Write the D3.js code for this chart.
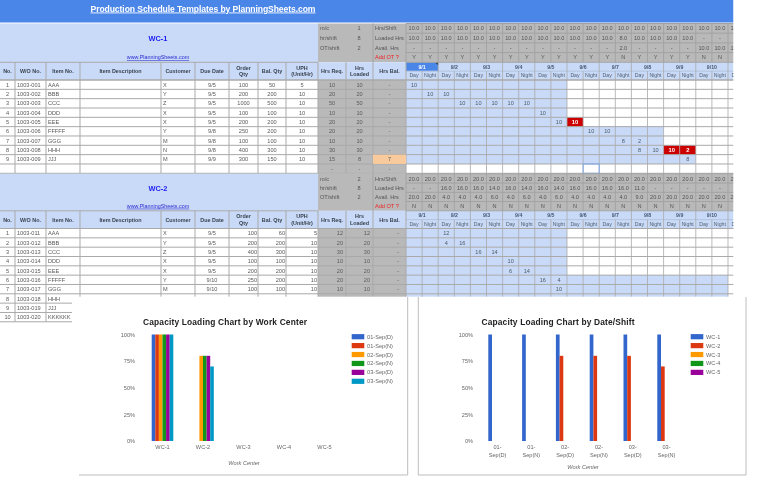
<!DOCTYPE html>
<html>
<head>
<meta charset="utf-8">
<script src="https://cdn.jsdelivr.net/npm/d3@7"></script>
<style>
  html, body { margin: 0; padding: 0; background: #fff; }
  svg { display: block; filter: blur(0.35px); font-family: "Liberation Sans", Arial, sans-serif; }
</style>
</head>
<body>
<svg id="chart" width="768" height="495"></svg>
<script>
const pageTitle = "Production Schedule Templates by PlanningSheets.com";
const siteLink = "www.PlanningSheets.com";
const headers = ["No.", "W/O No.", "Item No.", "Item Description", "Customer", "Due Date", "Order|Qty", "Bal. Qty", "UPH|(Unit/Hr)", "Hrs Req.", "Hrs|Loaded", "Hrs Bal."];
const dates = ["9/1", "9/2", "9/3", "9/4", "9/5", "9/6", "9/7", "9/8", "9/9", "9/10", "D"];
const capacityLabels = ["Hrs/Shift", "Loaded Hrs", "Avail. Hrs", "Add OT ?"];

// WC-1 table
const wc1Wo = ["1003-001", "1003-002", "1003-003", "1003-004", "1003-005", "1003-006", "1003-007", "1003-008", "1003-009"];
const wc1Items = ["AAA", "BBB", "CCC", "DDD", "EEE", "FFFFF", "GGG", "HHH", "JJJ"];
const wc1Cust = ["X", "Y", "Z", "X", "X", "Y", "M", "N", "M"];
const wc1Due = ["9/5", "9/5", "9/5", "9/5", "9/5", "9/8", "9/8", "9/8", "9/9"];
const wc1Order = [100, 200, 1000, 100, 200, 250, 100, 400, 300];
const wc1Bal = [50, 200, 500, 100, 200, 200, 100, 300, 150];
const wc1Uph = [5, 10, 10, 10, 10, 10, 10, 10, 10];
const wc1Req = [10, 20, 50, 10, 20, 20, 10, 30, 15, "-"];
const wc1Loaded = [10, 20, 50, 10, 20, 20, 10, 30, 8, "-"];
const wc1HrsBal = ["-", "-", "-", "-", "-", "-", "-", "-", 7, "-"];
const wc1Params = [["m/c", 1], ["hr/shift", 8], ["OT/shift", 2]];
const wc1HrsShift = ["10.0", "10.0", "10.0", "10.0", "10.0", "10.0", "10.0", "10.0", "10.0", "10.0", "10.0", "10.0", "10.0", "10.0", "10.0", "10.0", "10.0", "10.0", "10.0", "10.0", "10.0"];
const wc1LoadedHrs = ["10.0", "10.0", "10.0", "10.0", "10.0", "10.0", "10.0", "10.0", "10.0", "10.0", "10.0", "10.0", "10.0", "8.0", "10.0", "10.0", "10.0", "10.0", "-", "-", "-"];
const wc1Avail = ["-", "-", "-", "-", "-", "-", "-", "-", "-", "-", "-", "-", "-", "2.0", "-", "-", "-", "-", "10.0", "10.0", "10.0"];
const wc1Ot = ["Y", "Y", "Y", "Y", "Y", "Y", "Y", "Y", "Y", "Y", "Y", "Y", "Y", "N", "Y", "Y", "Y", "Y", "N", "N", "N"];
// [row, shift, hours, late]
const wc1Load = [[0, 0, 10], [1, 1, 10], [1, 2, 10], [2, 3, 10], [2, 4, 10], [2, 5, 10], [2, 6, 10], [2, 7, 10], [3, 8, 10], [4, 9, 10], [4, 10, 10, 1], [5, 11, 10], [5, 12, 10], [6, 13, 8], [6, 14, 2], [7, 14, 8], [7, 15, 10], [7, 16, 10, 1], [7, 17, 2, 1], [8, 17, 8]];
const wc1Window = [10, 10, 10, 10, 10, 16, 16, 16, 18, 0];

// WC-2 table
const wc2Wo = ["1003-011", "1003-012", "1003-013", "1003-014", "1003-015", "1003-016", "1003-017", "1003-018", "1003-019", "1003-020"];
const wc2Items = ["AAA", "BBB", "CCC", "DDD", "EEE", "FFFFF", "GGG", "HHH", "JJJ", "KKKKKK"];
const wc2Cust = ["X", "Y", "Z", "X", "X", "Y", "M", "N", "", ""];
const wc2Due = ["9/5", "9/5", "9/5", "9/5", "9/5", "9/10", "9/10", "9/15", "", ""];
const wc2Order = [100, 200, 400, 100, 200, 250, 100, 400, "", ""];
const wc2Bal = [60, 200, 300, 100, 200, 200, 100, 400, "", ""];
const wc2Uph = [5, 10, 10, 10, 10, 10, 10, 10, "", ""];
const wc2Req = [12, 20, 30, 10, 20, 20, 10, 40, "", ""];
const wc2Loaded = [12, 20, 30, 10, 20, 20, 10, 40, "", ""];
const wc2HrsBal = ["-", "-", "-", "-", "-", "-", "-", "-", "", ""];
const wc2Params = [["m/c", 2], ["hr/shift", 8], ["OT/shift", 2]];
const wc2HrsShift = ["20.0", "20.0", "20.0", "20.0", "20.0", "20.0", "20.0", "20.0", "20.0", "20.0", "20.0", "20.0", "20.0", "20.0", "20.0", "20.0", "20.0", "20.0", "20.0", "20.0", "20.0"];
const wc2LoadedHrs = ["-", "-", "16.0", "16.0", "16.0", "14.0", "16.0", "14.0", "16.0", "14.0", "16.0", "16.0", "16.0", "16.0", "11.0", "-", "-", "-", "-", "-", "-"];
const wc2Avail = ["20.0", "20.0", "4.0", "4.0", "4.0", "6.0", "4.0", "6.0", "4.0", "6.0", "4.0", "4.0", "4.0", "4.0", "9.0", "20.0", "20.0", "20.0", "20.0", "20.0", "20.0"];
const wc2Ot = ["N", "N", "N", "N", "N", "N", "N", "N", "N", "N", "N", "N", "N", "N", "N", "N", "N", "N", "N", "N", "N"];
const wc2Load = [[0, 2, 12], [1, 2, 4], [1, 3, 16], [2, 4, 16], [2, 5, 14], [3, 6, 10], [4, 6, 6], [4, 7, 14], [5, 8, 16], [5, 9, 4], [6, 9, 10], [7, 10, 16], [7, 11, 16], [7, 12, 8]];
const wc2Window = [10, 10, 10, 10, 10, 20, 20, 20, 20, 20];

// charts
const workCenters = ["WC-1", "WC-2", "WC-3", "WC-4", "WC-5"];
const shiftNames = ["01-Sep(D)", "01-Sep(N)", "02-Sep(D)", "02-Sep(N)", "03-Sep(D)", "03-Sep(N)"];
const wc1Capacity = [1, 1, 1, 1, 1, 1];
const wc2Capacity = [0, 0, 0.8, 0.8, 0.8, 0.7];
const chartColors = ["#3366cc", "#dc3912", "#ff9900", "#109618", "#990099", "#0099c6"];

const headerBlue = "#4a86e8", lightBlue = "#c9daf8", grey = "#b9b9b9", line = "#a9a9a9";
const textColor = "#5a5a5a", headColor = "#39424e";

const svg = d3.select("#chart");
svg.append("defs").append("clipPath").attr("id", "sheetClip")
    .append("rect").attr("width", 733.5).attr("height", 495);
svg.append("rect").attr("width", 768).attr("height", 495).attr("fill", "#fff");

const sheet = svg.append("g").attr("clip-path", "url(#sheetClip)");

// column edges of the sheet
const colEdges = [0, 15, 46, 80, 161, 195, 229, 258, 286, 318, 346, 373, 406];
const colX = d3.scaleOrdinal().domain(d3.range(colEdges.length)).range(colEdges);
const colMid = i => (colX(i) + colX(i + 1)) / 2;
const shiftX = d3.scaleBand().domain(d3.range(21)).range([406, 406 + 16.1 * 21]);
const dateX = d3.scaleBand().domain(d3.range(11)).range([406, 406 + 32.2 * 11]);

sheet.append("rect").attr("width", 733.5).attr("height", 22.5).attr("fill", headerBlue);
sheet.append("text").attr("x", 203).attr("y", 11.5)
    .attr("text-anchor", "middle").attr("font-size", 8.6).attr("font-weight", "bold")
    .attr("fill", "#fff").attr("text-decoration", "underline").attr("textLength", 225)
    .text(pageTitle);

function put(g, x, y, str, opts) {
    opts = opts || {};
    return g.append("text").attr("x", x).attr("y", y).attr("dy", "0.35em")
        .attr("text-anchor", opts.anchor || "start")
        .attr("font-size", opts.size || 5.6)
        .attr("font-weight", opts.bold ? "bold" : null)
        .attr("fill", opts.fill || textColor)
        .text(str);
}

function drawBlock(b) {
    const g = sheet.append("g");
    const rowY = d3.scaleLinear().domain([0, 10]).range([b.dataTop, b.dataTop + 93.3]);
    const capY = d3.scaleLinear().domain([0, 4]).range([b.top, b.headTop]);
    const n = 10, dataBottom = rowY(b.visibleRows);

    // fills
    g.append("rect").attr("x", 0).attr("y", b.top).attr("width", colX(9)).attr("height", b.headTop - b.top).attr("fill", lightBlue);
    g.append("rect").attr("x", colX(9)).attr("y", b.top).attr("width", 733.5 - colX(9)).attr("height", b.headTop - b.top).attr("fill", grey);
    g.append("rect").attr("x", 0).attr("y", b.headTop).attr("width", 733.5).attr("height", b.dataTop - b.headTop).attr("fill", lightBlue);
    g.append("rect").attr("x", colX(9)).attr("y", b.dataTop).attr("width", colX(12) - colX(9)).attr("height", dataBottom - b.dataTop).attr("fill", grey);

    // scheduled window per order
    g.selectAll(".window").data(b.window.slice(0, b.visibleRows)).enter().append("rect")
        .attr("x", shiftX(0))
        .attr("y", (d, i) => rowY(i))
        .attr("width", d => d * shiftX.bandwidth())
        .attr("height", rowY(1) - rowY(0))
        .attr("fill", lightBlue);

    g.selectAll(".late").data(b.load.filter(d => d[3])).enter().append("rect")
        .attr("x", d => shiftX(d[1]))
        .attr("y", d => rowY(d[0]))
        .attr("width", shiftX.bandwidth())
        .attr("height", rowY(1) - rowY(0))
        .attr("fill", "#cc0000");

    if (b.active) {
        g.append("rect").attr("x", dateX(0)).attr("y", b.headTop).attr("width", dateX.bandwidth()).attr("height", (b.dataTop - b.headTop) / 2).attr("fill", headerBlue);
        g.append("path").attr("d", `M${dateX(1) - 3},${b.headTop}h3v3z`).attr("fill", "#222");
    }

    // grid lines
    const hLines = d3.range(0, b.visibleRows + 1).map(rowY);
    g.selectAll(".h").data(hLines).enter().append("line")
        .attr("x1", 0).attr("x2", 733.5).attr("y1", d => d).attr("y2", d => d)
        .attr("stroke", line).attr("stroke-width", 1);
    g.selectAll(".cap").data(d3.range(0, 5)).enter().append("line")
        .attr("x1", colX(12)).attr("x2", 733.5).attr("y1", d => capY(d)).attr("y2", d => capY(d))
        .attr("stroke", "#a3a3a3");
    g.append("line").attr("x1", 0).attr("x2", colX(9)).attr("y1", b.headTop).attr("y2", b.headTop).attr("stroke", line);
    g.append("line").attr("x1", 0).attr("x2", 733.5).attr("y1", b.dataTop).attr("y2", b.dataTop).attr("stroke", line);
    g.append("line").attr("x1", shiftX(0)).attr("x2", 733.5).attr("y1", (b.headTop + b.dataTop) / 2).attr("y2", (b.headTop + b.dataTop) / 2).attr("stroke", "#b4c4dc");
    g.selectAll(".v").data(colEdges.slice(1)).enter().append("line")
        .attr("x1", d => d).attr("x2", d => d).attr("y1", b.headTop).attr("y2", dataBottom)
        .attr("stroke", line);
    g.selectAll(".s").data(d3.range(1, 21)).enter().append("line")
        .attr("x1", d => shiftX(d)).attr("x2", d => shiftX(d))
        .attr("y1", d => d % 2 ? (b.headTop + b.dataTop) / 2 : b.headTop)
        .attr("y2", dataBottom)
        .attr("stroke", line).attr("stroke-opacity", 0.8);
    g.selectAll(".cv").data(d3.range(0, 21)).enter().append("line")
        .attr("x1", d => shiftX(d)).attr("x2", d => shiftX(d))
        .attr("y1", b.top).attr("y2", b.headTop)
        .attr("stroke", "#a3a3a3");
    g.append("line").attr("x1", colX(11)).attr("x2", colX(11)).attr("y1", b.top).attr("y2", b.headTop).attr("stroke", "#a3a3a3");

    // block heading
    put(g, 158, b.top + 15, b.name, { anchor: "middle", size: 7.4, bold: true, fill: "#1c1cf0" });
    put(g, 158, b.headTop - 5, siteLink, { anchor: "middle", size: 5.4, fill: "#2a2ad0" }).attr("text-decoration", "underline");

    b.params.forEach((p, i) => {
        put(g, colX(9) + 2, capY(i) + 5, p[0], { fill: "#555" });
        put(g, 359, capY(i) + 5, p[1], { anchor: "middle", fill: "#555" });
    });
    capacityLabels.forEach((c, i) => {
        put(g, colX(11) + 2, capY(i) + 4.8, c, { fill: i === 3 ? "#ee2222" : "#555" });
    });
    [b.hrsShift, b.loadedHrs, b.avail, b.ot].forEach((arr, r) => {
        g.selectAll(null).data(arr).enter().append("text")
            .attr("x", (d, i) => shiftX(i) + shiftX.bandwidth() / 2)
            .attr("y", capY(r) + 4.8).attr("dy", "0.35em")
            .attr("text-anchor", "middle").attr("font-size", 5.6).attr("fill", "#555")
            .text(d => d);
    });

    // headers
    headers.forEach((h, i) => {
        const parts = h.split("|");
        const cy = (b.headTop + b.dataTop) / 2;
        parts.forEach((t, k) => {
            put(g, colMid(i), cy + (k - (parts.length - 1) / 2) * 6.4, t, { anchor: "middle", bold: true, size: 5.4, fill: headColor });
        });
    });
    dates.forEach((d, i) => {
        if (i === 10) return;
        put(g, dateX(i) + dateX.bandwidth() / 2, b.headTop + 4.4, d, { anchor: "middle", bold: true, size: 5.2, fill: b.active && i === 0 ? "#fff" : "#46586f" });
    });
    d3.range(21).forEach(i => {
        put(g, shiftX(i) + 8, (b.headTop + b.dataTop) / 2 + 4.4, i % 2 ? "Night" : "Day", { anchor: "middle", size: 5.2, fill: "#506070" });
    });

    // rows
    const rowText = (arr, x, anchor) => {
        g.selectAll(null).data(arr).enter().append("text")
            .attr("x", x).attr("y", (d, i) => rowY(i) + 4.8).attr("dy", "0.35em")
            .attr("text-anchor", anchor).attr("font-size", 5.6)
            .attr("fill", textColor)
            .text(d => d);
    };
    rowText(d3.range(1, b.wo.length + 1), colMid(0), "middle");
    rowText(b.wo, colX(1) + 2, "start");
    rowText(b.items, colX(2) + 2, "start");
    rowText(b.cust, colX(4) + 2, "start");
    rowText(b.due, colMid(5), "middle");
    if (b.rightAlign) {
        rowText(b.order, colX(7) - 1, "end");
        rowText(b.bal, colX(8) - 1, "end");
        rowText(b.uph, colX(9) - 1, "end");
        rowText(b.req, colX(10) - 3, "end");
        rowText(b.loaded, colX(11) - 3, "end");
        rowText(b.hrsBal, colX(12) - 7, "end");
    } else {
        rowText(b.order, colMid(6), "middle");
        rowText(b.bal, colMid(7), "middle");
        rowText(b.uph, colMid(8), "middle");
        rowText(b.req, colMid(9), "middle");
        rowText(b.loaded, colMid(10), "middle");
        rowText(b.hrsBal, colMid(11), "middle");
    }

    g.selectAll(".load").data(b.load).enter().append("text")
        .attr("x", d => shiftX(d[1]) + shiftX.bandwidth() / 2)
        .attr("y", d => rowY(d[0]) + 4.8).attr("dy", "0.35em")
        .attr("text-anchor", "middle").attr("font-size", d => d[3] ? 5.8 : 5.6)
        .attr("font-weight", d => d[3] ? "bold" : null)
        .attr("fill", d => d[3] ? "#fff" : "#4e5a68")
        .text(d => d[2]);
    return { g, rowY };
}

const block1 = drawBlock({
    name: "WC-1", top: 23.5, headTop: 62.3, dataTop: 80, visibleRows: 10, active: true,
    params: wc1Params, hrsShift: wc1HrsShift, loadedHrs: wc1LoadedHrs, avail: wc1Avail, ot: wc1Ot,
    wo: wc1Wo, items: wc1Items, cust: wc1Cust, due: wc1Due, order: wc1Order, bal: wc1Bal, uph: wc1Uph,
    req: wc1Req, loaded: wc1Loaded, hrsBal: wc1HrsBal, load: wc1Load, window: wc1Window
});
// the short order is flagged, the cursor sits on an empty cell
block1.g.insert("rect", "text").attr("x", colX(11)).attr("y", block1.rowY(8)).attr("width", colX(12) - colX(11)).attr("height", 9.3).attr("fill", "#f9cb9c");
block1.g.append("rect").attr("x", shiftX(11)).attr("y", block1.rowY(9)).attr("width", shiftX.bandwidth()).attr("height", 9.3)
    .attr("fill", "none").attr("stroke", "#7ea6e8").attr("stroke-width", 1);

drawBlock({
    name: "WC-2", top: 173.8, headTop: 210.8, dataTop: 228.5, visibleRows: 10, rightAlign: true,
    params: wc2Params, hrsShift: wc2HrsShift, loadedHrs: wc2LoadedHrs, avail: wc2Avail, ot: wc2Ot,
    wo: wc2Wo, items: wc2Items, cust: wc2Cust, due: wc2Due, order: wc2Order, bal: wc2Bal, uph: wc2Uph,
    req: wc2Req, loaded: wc2Loaded, hrsBal: wc2HrsBal, load: wc2Load, window: wc2Window
});

// floating chart panels cover the lower part of the sheet
svg.append("rect").attr("x", 72).attr("y", 296.7).attr("width", 696).attr("height", 198.3).attr("fill", "#fff");
svg.append("path").attr("d", "M79,475H407.7V297").attr("fill", "none").attr("stroke", "#bdbdbd").attr("stroke-width", 1);
svg.append("path").attr("d", "M418.3,297V475H746V297").attr("fill", "none").attr("stroke", "#bdbdbd").attr("stroke-width", 1);

function drawChart(c) {
    const g = svg.append("g");
    const y = d3.scaleLinear().domain([0, 1]).range([441, 334.5]);
    const x = d3.scaleBand().domain(c.categories).range(c.xRange);
    const inner = d3.scaleBand().domain(c.series).range([0, c.groupWidth]);
    const pad = (x.bandwidth() - c.groupWidth) / 2;

    g.append("text").attr("x", c.titleX).attr("y", 324.5).attr("text-anchor", "middle")
        .attr("font-size", 8.4).attr("font-weight", "bold").attr("fill", "#222")
        .attr("textLength", c.titleLen).text(c.title);

    const yAxis = g.append("g").attr("transform", `translate(${c.yAxisX},0)`)
        .call(d3.axisLeft(y).tickValues([0, 0.25, 0.5, 0.75, 1]).tickFormat(d3.format(".0%")).tickSize(0).tickPadding(0));
    yAxis.select(".domain").remove();
    yAxis.selectAll("text").attr("font-size", 5.6).attr("font-family", null).attr("fill", "#666");

    const xAxis = g.append("g").attr("transform", "translate(0,441)")
        .call(d3.axisBottom(x).tickSize(0).tickPadding(4));
    xAxis.select(".domain").remove();
    xAxis.selectAll("text").attr("font-size", 5.6).attr("font-family", null).attr("fill", "#666")
        .each(function (d) {
            const m = d.match(/^(\d+-)(.*)$/);
            if (!c.wrapLabels || !m) return;
            const t = d3.select(this).text(null);
            t.append("tspan").attr("x", 0).text(m[1]);
            t.append("tspan").attr("x", 0).attr("dy", 7.7).text(m[2]);
        });

    c.categories.forEach((cat, ci) => {
        g.selectAll(null).data(c.values).enter().append("rect")
            .attr("x", (v, si) => x(cat) + pad + inner(c.series[si]))
            .attr("y", v => y(v[ci]))
            .attr("width", inner.bandwidth())
            .attr("height", v => y(0) - y(v[ci]))
            .attr("fill", (v, si) => chartColors[si]);
    });

    g.append("text").attr("x", c.axisTitleX).attr("y", c.axisTitleY).attr("dy", "0.35em").attr("text-anchor", "middle")
        .attr("font-size", 5.6).attr("font-style", "italic").attr("fill", "#666").text("Work Center");

    const legendY = d3.scaleLinear().domain([0, 5]).range([336.7, 381.3]);
    c.legend.forEach((name, i) => {
        g.append("rect").attr("x", c.legendX).attr("y", legendY(i) - 2.6).attr("width", 12.6).attr("height", 5.2).attr("fill", chartColors[i]);
        g.append("text").attr("x", c.legendX + 15.4).attr("y", legendY(i)).attr("dy", "0.35em")
            .attr("font-size", 5.6).attr("fill", "#666").text(name);
    });
}

drawChart({
    title: "Capacity Loading Chart by Work Center", titleX: 225, titleLen: 164,
    categories: workCenters, series: shiftNames, legend: shiftNames,
    values: shiftNames.map((s, i) => workCenters.map((w, k) => k === 0 ? wc1Capacity[i] : k === 1 ? wc2Capacity[i] : 0)),
    xRange: [142.25, 344.75], groupWidth: 21.6, yAxisX: 135, axisTitleX: 244, axisTitleY: 462.7, legendX: 351.7
});
drawChart({
    title: "Capacity Loading Chart by Date/Shift", titleX: 558, titleLen: 153,
    categories: shiftNames, series: workCenters, legend: workCenters,
    values: workCenters.map((w, k) => shiftNames.map((s, i) => k === 0 ? wc1Capacity[i] : k === 1 ? wc2Capacity[i] : 0)),
    xRange: [480.65, 683.45], groupWidth: 18.5, wrapLabels: true, yAxisX: 473, axisTitleX: 583, axisTitleY: 466.7, legendX: 690.7
});
</script>
</body>
</html>
